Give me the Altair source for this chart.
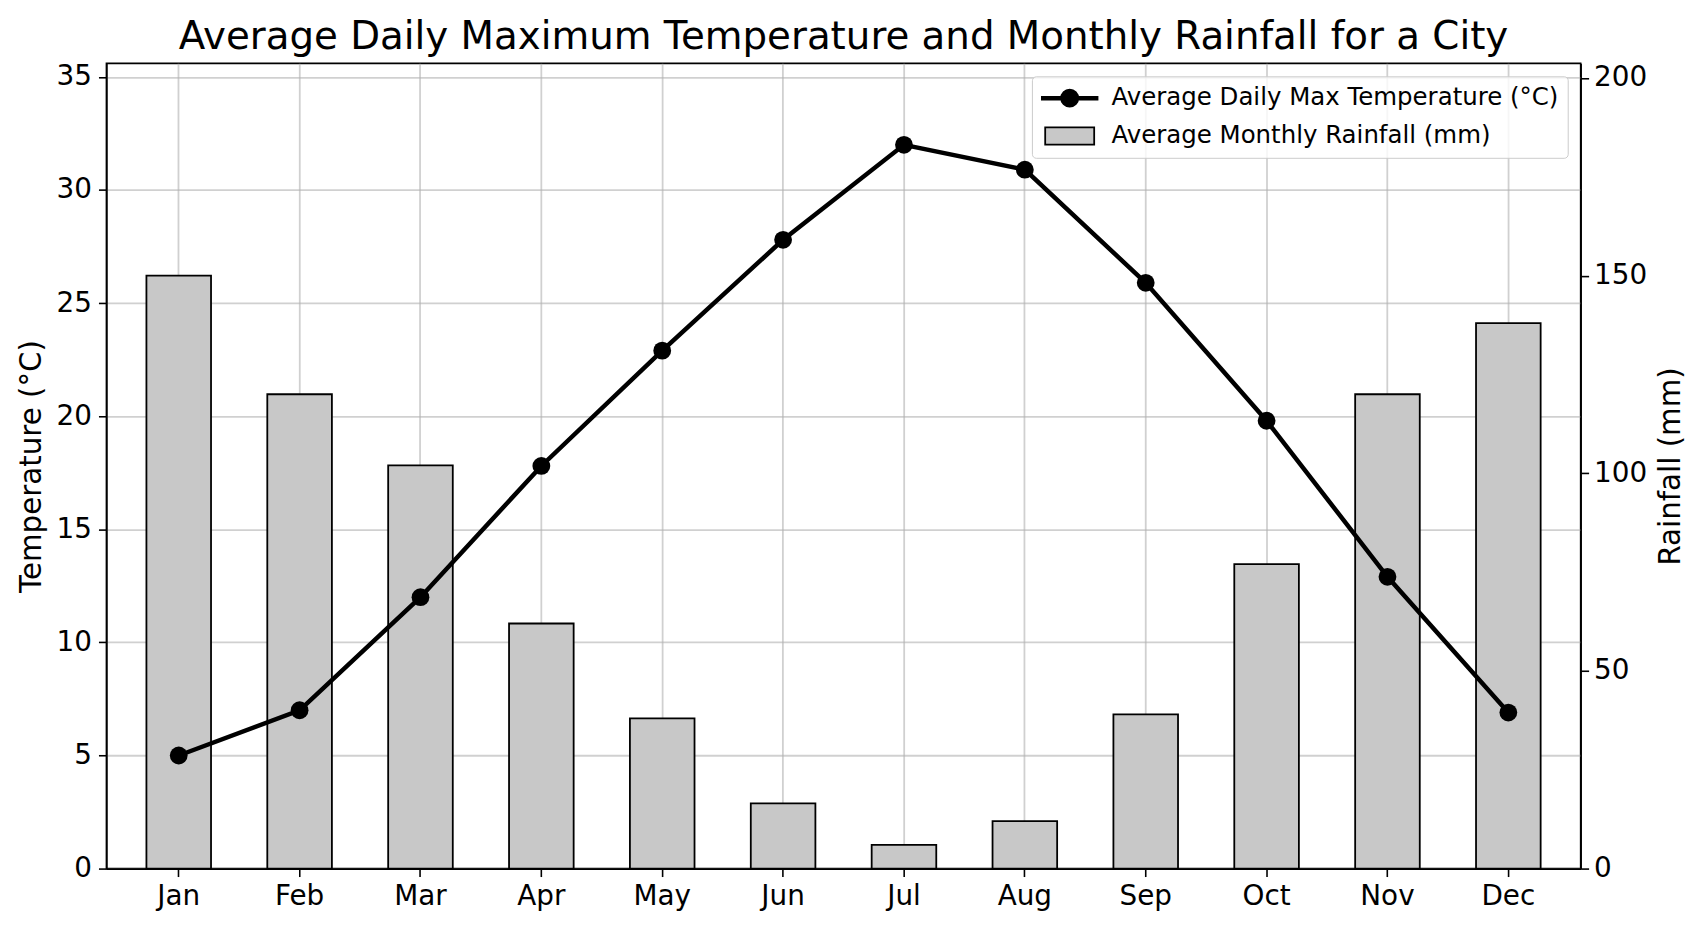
import altair as alt
import pandas as pd

months = ["Jan", "Feb", "Mar", "Apr", "May", "Jun", "Jul", "Aug", "Sep", "Oct", "Nov", "Dec"]
temperature = [5.0, 7.0, 12.0, 17.8, 22.9, 27.8, 32.0, 30.9, 25.9, 19.8, 12.9, 6.9]
rainfall = [150, 120, 102, 62, 38, 16.5, 6, 12, 39, 77, 120, 138]

temp_label = "Average Daily Max Temperature (°C)"
rain_label = "Average Monthly Rainfall (mm)"
series_labels = [temp_label, rain_label]
temp_ticks = [0, 5, 10, 15, 20, 25, 30, 35]
rain_ticks = [0, 50, 100, 150, 200]

df = pd.DataFrame({"month": months, "temp": temperature, "rain": rainfall})
legend_df = pd.DataFrame({"series": series_labels})

FONT = "DejaVu Sans"
BAR_GRAY = "#c8c8c8"

# legend symbol shapes (unit box -1..1, symbol size 3136 -> 28 px per unit)
path_line = ("M-1,-0.05L1,-0.05L1,0.05L-1,0.05Z"
             "M0.307,0A0.307,0.307,0,1,1,-0.307,0A0.307,0.307,0,1,1,0.307,0Z")
path_rect = "M-0.88,-0.31L0.88,-0.31L0.88,0.31L-0.88,0.31Z"

x = alt.X(
    "month:N",
    sort=months,
    scale=alt.Scale(paddingInner=0.4655, paddingOuter=0.331),
    axis=alt.Axis(
        title=None,
        labelAngle=0,
        grid=True,
        bandPosition=0.5,
        gridColor="#b0b0b0",
        gridOpacity=0.6,
        gridWidth=1.8,
        labelPadding=6,
    ),
)

bars = (
    alt.Chart(df)
    .mark_bar(fill=BAR_GRAY, stroke="black", strokeWidth=1.8, opacity=1)
    .encode(
        x=x,
        y=alt.Y(
            "rain:Q",
            scale=alt.Scale(domain=[0, 203.7], nice=False, zero=True),
            axis=alt.Axis(
                orient="right",
                title="Rainfall (mm)",
                values=rain_ticks,
                grid=False,
                labelPadding=5,
                titleAngle=270,
                titleBaseline="top",
                titlePadding=10,
            ),
        ),
    )
)

line = (
    alt.Chart(df)
    .mark_line(color="black", strokeWidth=4.5,
               point=alt.OverlayMarkDef(filled=True, size=320, opacity=1, color="black"))
    .encode(
        x=x,
        y=alt.Y(
            "temp:Q",
            scale=alt.Scale(domain=[0, 35.6], nice=False, zero=True),
            axis=alt.Axis(
                orient="left",
                title="Temperature (°C)",
                values=temp_ticks,
                grid=True,
                gridColor="#b0b0b0",
                gridOpacity=0.6,
                gridWidth=1.8,
                titlePadding=10,
            ),
        ),
    )
)

legend_layer = (
    alt.Chart(legend_df)
    .transform_filter("false")
    .mark_point(filled=True, opacity=1, stroke="black", strokeWidth=1.8)
    .encode(
        color=alt.Color(
            "series:N",
            scale=alt.Scale(domain=series_labels, range=["black", BAR_GRAY]),
            legend=alt.Legend(
                title=None,
                orient="top-right",
                offset=13,
                padding=9,
                rowPadding=12,
                clipHeight=26,
                labelFont=FONT,
                labelFontSize=24.6,
                labelColor="black",
                labelLimit=1000,
                labelOffset=13,
                symbolSize=3136,
                symbolStrokeColor="black",
                symbolStrokeWidth=1.8,
                symbolOpacity=1,
                fillColor="rgba(255,255,255,0.8)",
                strokeColor="#cccccc",
                cornerRadius=4,
            ),
        ),
        shape=alt.Shape(
            "series:N",
            scale=alt.Scale(domain=series_labels, range=[path_line, path_rect]),
            legend=alt.Legend(title=None),
        ),
    )
)

chart = (
    alt.layer(bars, line, legend_layer)
    .resolve_scale(y="independent")
    .properties(
        width=1483,
        height=810,
        padding={"left": 8, "top": 7, "right": 5, "bottom": 5},
        title=alt.TitleParams(
            "Average Daily Maximum Temperature and Monthly Rainfall for a City",
            font=FONT,
            fontSize=39,
            fontWeight="normal",
            color="black",
            offset=6,
            anchor="middle",
        ),
    )
    .configure_view(stroke="black", strokeWidth=1.6)
    .configure_axis(
        domainColor="black",
        domainWidth=1.6,
        tickColor="black",
        tickWidth=1.6,
        tickSize=8,
        labelFont=FONT,
        labelFontSize=28,
        labelColor="black",
        labelPadding=7,
        titleFont=FONT,
        titleFontSize=29.5,
        titleFontWeight="normal",
        titleColor="black",
    )
)

chart.save("out.html", embed_options={"renderer": "svg", "actions": False})
